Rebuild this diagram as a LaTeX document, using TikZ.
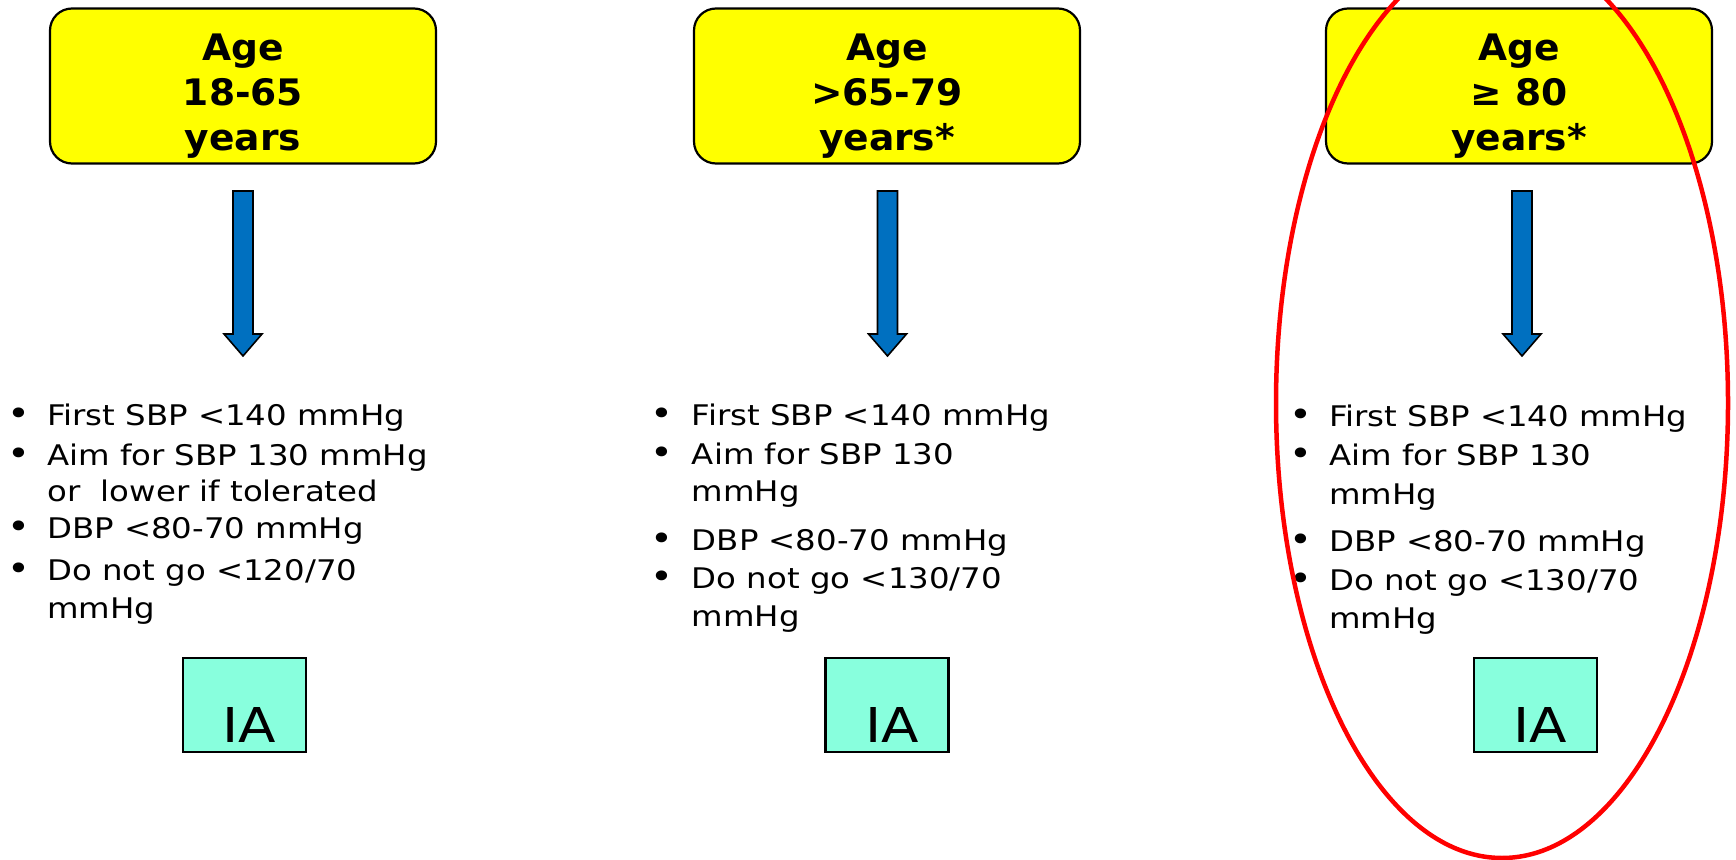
\documentclass[tikz,border=0pt]{standalone}
\usepackage{fontspec}
\setmainfont{DejaVu Sans}[FakeStretch=1.14, BoldFeatures={FakeStretch=1.03}]
\definecolor{hdryellow}{RGB}{255,255,0}
\definecolor{arrblue}{RGB}{0,112,192}
\definecolor{iagreen}{RGB}{136,255,221}
\newcommand\hlines[3]{\vtop{\baselineskip=45pt\hbox to 340pt{\hss#1\hss}\hbox to 340pt{\hss#2\hss}\hbox to 340pt{\hss#3\hss}}}
\newcommand\twolines[3]{\vtop{\baselineskip=#1\hbox{#2}\hbox{#3}}}
\tikzset{
 hdrbox/.style={draw=black, line width=2.2pt, fill=hdryellow, rounded corners=22pt, minimum width=386pt, minimum height=155pt, inner sep=0pt},
 hdrtext/.style={anchor=base, inner sep=0pt, font=\fontsize{36.5}{45}\selectfont\bfseries},
 bultext/.style={anchor=base west, inner sep=0pt, font=\fontsize{28.4}{37}\selectfont},
 bulmark/.style={anchor=base, inner sep=0pt, font=\fontsize{34}{37}\selectfont},
 iabox/.style={draw=black, line width=2.5pt, fill=iagreen, minimum width=123pt, minimum height=94pt, inner sep=0pt},
 iatext/.style={anchor=base, inner sep=0pt, font=\fontsize{48}{58}\selectfont},
 blockarrow/.style={draw=black, line width=1.6pt, fill=arrblue, line join=miter},
 ring/.style={draw=red, line width=4.5pt},
}
\begin{document}
\begin{tikzpicture}[x=1pt,y=-1pt]
\useasboundingbox (0,0) rectangle (1736,859);
\clip (0,0) rectangle (1736,859);
\fill[white] (0,0) rectangle (1736,859);

% headers
\node[hdrbox] (boxA) at (243,86) {};
\node[hdrbox] (boxB) at (887,86) {};
\node[hdrbox] (boxC) at (1519,86) {};
\node[hdrtext] (hdrA) at (243,60.5) {\hlines{Age}{18-65}{years}};
\node[hdrtext] (hdrB) at (887,60.5) {\hlines{Age}{>65-79}{years*}};
\node[hdrtext] (hdrC) at (1519,60.5) {\hlines{Age}{≥ 80}{years*}};

% block arrows
\coordinate (arrA) at (243,191);
\coordinate (arrB) at (887.5,191);
\coordinate (arrC) at (1522,191);
\foreach \a in {arrA,arrB,arrC}{
 \draw[blockarrow] (\a) ++(-10,0) -- ++(20,0) -- ++(0,143) -- ++(9,0) -- ++(-19,22) -- ++(-19,-22) -- ++(9,0) -- cycle;
}

% column 1
\node[bulmark] (bA1) at (18.5,425.7) {•};
\node[bultext] (tA1) at (47,425.7) {First SBP <140 mmHg};
\node[bulmark] (bA2) at (18.5,465) {•};
\node[bultext] (tA2) at (47,465) {\twolines{36.7pt}{Aim for SBP 130 mmHg}{or~~lower if tolerated}};
\node[bulmark] (bA3) at (18.5,538) {•};
\node[bultext] (tA3) at (47,538) {DBP <80-70 mmHg};
\node[bulmark] (bA4) at (18.5,580) {•};
\node[bultext] (tA4) at (47,580) {\twolines{38pt}{Do not go <120/70}{mmHg}};

% column 2
\node[bulmark] (bB1) at (661.7,425.7) {•};
\node[bultext] (tB1) at (691.7,425.7) {First SBP <140 mmHg};
\node[bulmark] (bB2) at (661.7,464) {•};
\node[bultext] (tB2) at (691.7,464) {\twolines{37.7pt}{Aim for SBP 130}{mmHg}};
\node[bulmark] (bB3) at (661.7,550) {•};
\node[bultext] (tB3) at (691.7,550) {DBP <80-70 mmHg};
\node[bulmark] (bB4) at (661.7,588) {•};
\node[bultext] (tB4) at (691.7,588) {\twolines{38.7pt}{Do not go <130/70}{mmHg}};

% column 3
\node[bulmark] (bC1) at (1300.7,426.7) {•};
\node[bultext] (tC1) at (1329,426.7) {First SBP <140 mmHg};
\node[bulmark] (bC2) at (1300.7,465) {•};
\node[bultext] (tC2) at (1329,465) {\twolines{39pt}{Aim for SBP 130}{mmHg}};
\node[bulmark] (bC3) at (1300.7,551.7) {•};
\node[bultext] (tC3) at (1329,551.7) {DBP <80-70 mmHg};
\node[bulmark] (bC4) at (1300.7,590) {•};
\node[bultext] (tC4) at (1329,590) {\twolines{38pt}{Do not go <130/70}{mmHg}};

% IA boxes
\node[iabox] (iaA) at (244.5,705) {};
\node[iabox] (iaB) at (887,705) {};
\node[iabox] (iaC) at (1535.5,705) {};
\node[iatext] (iaAt) at (249,742) {IA};
\node[iatext] (iaBt) at (892,742) {IA};
\node[iatext] (iaCt) at (1540.5,742) {IA};

% red ellipse
\draw[ring] (1502,403) ellipse [x radius=226pt, y radius=455pt];
\end{tikzpicture}
\end{document}
